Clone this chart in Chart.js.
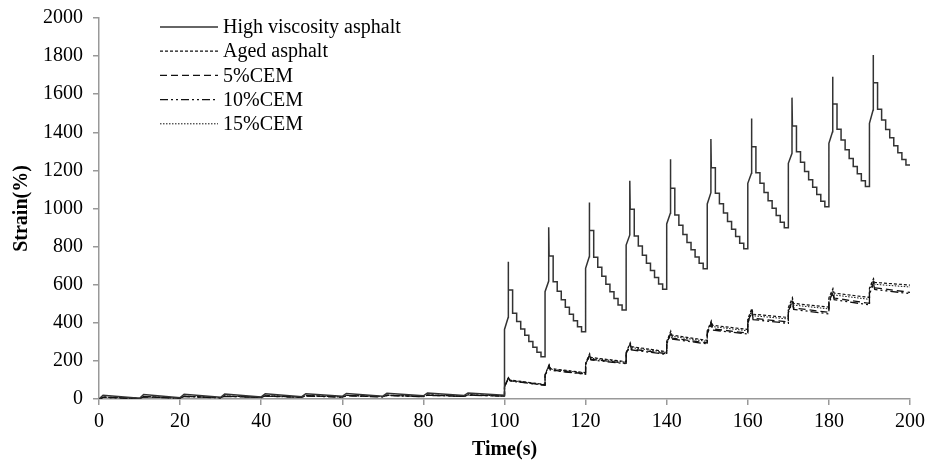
<!DOCTYPE html>
<html lang="en">
<head>
<meta charset="UTF-8" />
<title>Strain vs Time</title>
<script src="https://cdn.jsdelivr.net/npm/chart.js"></script>
<style>
  html, body { margin: 0; padding: 0; background: #fff; }
  #wrap { width: 932px; height: 466px; }
</style>
</head>
<body>
<div id="wrap"><canvas id="strainChart" width="932" height="466"></canvas></div>
<script>
// cycle start times (s)
const lowStarts = [0, 10, 20, 30, 40, 50, 60, 70, 80, 90];
const highStarts = [100, 110, 120, 130, 140, 150, 160, 170, 180, 190];

// High viscosity asphalt
const hvLowPeak = [20, 23, 25, 26, 27, 28, 29, 30, 31, 32];
const hvLowEnd = [4, 7, 9, 11, 12, 14, 15, 17, 18, 20];
const hvJump = [365, 563, 686, 808, 919, 1024, 1132, 1237, 1342, 1447];
const hvSlant = [428, 619, 747, 861, 975, 1083, 1185, 1290, 1403, 1517];
const hvPeak = [721, 901, 1031, 1146, 1258, 1365, 1473, 1582, 1692, 1806];
const hvDrop = [572, 751, 884, 996, 1106, 1214, 1324, 1433, 1548, 1660];
const hvSteps = [
  [450, 407, 368, 334, 302, 272, 245, 222],
  [616, 566, 521, 482, 445, 411, 379, 353],
  [744, 691, 644, 602, 563, 527, 494, 467],
  [856, 803, 755, 713, 674, 638, 604, 576],
  [966, 912, 864, 822, 783, 746, 712, 684],
  [1080, 1025, 976, 932, 891, 853, 818, 789],
  [1188, 1133, 1084, 1041, 1001, 963, 928, 899],
  [1298, 1243, 1194, 1151, 1111, 1073, 1038, 1009],
  [1416, 1359, 1308, 1263, 1221, 1182, 1146, 1115],
  [1521, 1465, 1415, 1371, 1330, 1292, 1257, 1228]
];

// Aged asphalt
const agedLowPeak = [10, 13, 15, 16, 17, 18, 19, 20, 21, 22];
const agedLowEnd = [3, 5, 7, 9, 10, 11, 13, 14, 15, 17];
const agedJump = [65, 128, 188, 245, 302, 359, 420, 480, 531, 582];
const agedPeak = [115, 180, 238, 295, 356, 410, 475, 532, 580, 632];
const agedSettle = [100, 160, 218, 275, 335, 387, 445, 502, 556, 612];
const agedEnd = [76, 138, 196, 248, 308, 365, 428, 482, 533, 598];

// 5%CEM
const cem5LowPeak = [9, 12, 14, 15, 16, 17, 18, 19, 20, 21];
const cem5LowEnd = [3, 5, 7, 8, 9, 10, 12, 13, 14, 15];
const cem5Jump = [63, 124, 182, 237, 292, 346, 403, 460, 509, 557];
const cem5Peak = [112, 175, 231, 286, 345, 398, 460, 515, 562, 612];
const cem5Settle = [96, 153, 208, 262, 320, 368, 424, 478, 530, 584];
const cem5End = [73, 132, 188, 238, 294, 346, 404, 455, 502, 560];

// 10%CEM
const cem10LowPeak = [9, 11, 13, 14, 15, 16, 17, 18, 19, 20];
const cem10LowEnd = [2, 4, 6, 8, 9, 10, 11, 12, 14, 15];
const cem10Jump = [63, 122, 179, 234, 288, 342, 398, 453, 502, 550];
const cem10Peak = [111, 173, 228, 283, 341, 394, 455, 509, 556, 605];
const cem10Settle = [95, 151, 205, 258, 315, 362, 417, 470, 521, 575];
const cem10End = [72, 130, 185, 234, 289, 341, 397, 447, 494, 553];

// 15%CEM
const cem15LowPeak = [10, 12, 14, 16, 17, 18, 19, 20, 21, 22];
const cem15LowEnd = [3, 5, 7, 8, 10, 11, 12, 14, 15, 16];
const cem15Jump = [64, 126, 185, 242, 297, 353, 413, 472, 523, 574];
const cem15Peak = [113, 177, 234, 290, 350, 404, 468, 524, 572, 624];
const cem15Settle = [98, 157, 214, 270, 329, 380, 437, 493, 546, 602];
const cem15End = [75, 136, 193, 244, 302, 358, 420, 473, 523, 588];

const xTicks = { min: 0, max: 200, step: 20 };
const yTicks = { min: 0, max: 2000, step: 200 };

function lowPart(peak, end) {
  const pts = [{ x: 0, y: 0 }];
  lowStarts.forEach((s, i) => {
    pts.push({ x: s + 1, y: peak[i] });
    pts.push({ x: s + 10, y: end[i] });
  });
  return pts;
}

function hvPoints() {
  const pts = lowPart(hvLowPeak, hvLowEnd);
  highStarts.forEach((s, i) => {
    pts.push({ x: s, y: hvJump[i] });
    pts.push({ x: s + 0.9, y: hvSlant[i] });
    pts.push({ x: s + 0.9, y: hvPeak[i] });
    pts.push({ x: s + 1, y: hvDrop[i] });
    pts.push({ x: s + 2, y: hvDrop[i] });
    hvSteps[i].forEach((v, j) => {
      pts.push({ x: s + 2 + j, y: v });
      pts.push({ x: s + 3 + j, y: v });
    });
  });
  return pts;
}

function mixPoints(lowPeak, lowEnd, jump, peak, settle, end) {
  const pts = lowPart(lowPeak, lowEnd);
  highStarts.forEach((s, i) => {
    pts.push({ x: s, y: jump[i] });
    pts.push({ x: s + 1, y: peak[i] });
    pts.push({ x: s + 1.3, y: settle[i] });
    pts.push({ x: s + 10, y: end[i] });
  });
  return pts;
}

const serif = "'Liberation Serif', 'Times New Roman', serif";

// legend drawn inside the plot, top left
const innerLegend = {
  id: 'innerLegend',
  afterDraw(chart) {
    const c = chart.ctx;
    c.save();
    c.font = '20px ' + serif;
    c.textBaseline = 'middle';
    c.fillStyle = '#000';
    chart.data.datasets.forEach((ds, i) => {
      const y = 27 + i * 24.2;
      c.beginPath();
      c.strokeStyle = ds.borderColor;
      c.lineWidth = ds.borderWidth;
      c.setLineDash(ds.borderDash || []);
      c.moveTo(160, y);
      c.lineTo(218, y);
      c.stroke();
      c.setLineDash([]);
      c.fillText(ds.label, 223, y + 1);
    });
    c.restore();
  }
};

const ctx = document.getElementById('strainChart').getContext('2d');
const strainChart = new Chart(ctx, {
  type: 'scatter',
  data: {
    datasets: [
      {
        label: 'High viscosity asphalt',
        data: hvPoints(),
        borderColor: '#333',
        borderWidth: 1.5,
        borderDash: []
      },
      {
        label: 'Aged asphalt',
        data: mixPoints(agedLowPeak, agedLowEnd, agedJump, agedPeak, agedSettle, agedEnd),
        borderColor: '#111',
        borderWidth: 1.2,
        borderDash: [3, 2]
      },
      {
        label: '5%CEM',
        data: mixPoints(cem5LowPeak, cem5LowEnd, cem5Jump, cem5Peak, cem5Settle, cem5End),
        borderColor: '#111',
        borderWidth: 1.3,
        borderDash: [7, 4]
      },
      {
        label: '10%CEM',
        data: mixPoints(cem10LowPeak, cem10LowEnd, cem10Jump, cem10Peak, cem10Settle, cem10End),
        borderColor: '#111',
        borderWidth: 1.3,
        borderDash: [8, 3, 2, 3, 2, 3]
      },
      {
        label: '15%CEM',
        data: mixPoints(cem15LowPeak, cem15LowEnd, cem15Jump, cem15Peak, cem15Settle, cem15End),
        borderColor: '#111',
        borderWidth: 1,
        borderDash: [1.5, 1.5]
      }
    ]
  },
  options: {
    responsive: false,
    animation: false,
    showLine: true,
    layout: { padding: { top: 18, right: 22, left: 0, bottom: 0 } },
    elements: {
      point: { radius: 0, hoverRadius: 0 },
      line: { tension: 0, fill: false }
    },
    plugins: {
      legend: { display: false },
      tooltip: { enabled: false }
    },
    scales: {
      x: {
        type: 'linear',
        min: xTicks.min,
        max: xTicks.max,
        afterFit(scale) { scale.height = 67; },
        border: { color: '#999', width: 1.5 },
        grid: { drawOnChartArea: false, color: '#999', tickLength: 6, lineWidth: 1.5 },
        ticks: {
          stepSize: xTicks.step,
          color: '#000',
          padding: 5,
          maxRotation: 0,
          font: { family: serif, size: 20 },
          callback: v => String(v)
        },
        title: {
          display: true,
          text: 'Time(s)',
          color: '#000',
          padding: { top: 0, bottom: 4 },
          font: { family: serif, size: 20, weight: 'bold' }
        }
      },
      y: {
        min: yTicks.min,
        max: yTicks.max,
        afterFit(scale) {
          scale.width = 99;
          scale.paddingTop = 0;
          scale.paddingBottom = 0;
        },
        border: { color: '#999', width: 1.5 },
        grid: { drawOnChartArea: false, color: '#999', tickLength: 6, lineWidth: 1.5 },
        ticks: {
          stepSize: yTicks.step,
          color: '#000',
          padding: 10,
          font: { family: serif, size: 20 },
          callback: v => String(v)
        },
        title: {
          display: true,
          text: 'Strain(%)',
          color: '#000',
          padding: { top: 10, bottom: 0 },
          font: { family: serif, size: 20, weight: 'bold' }
        }
      }
    }
  },
  plugins: [innerLegend]
});
</script>
</body>
</html>
